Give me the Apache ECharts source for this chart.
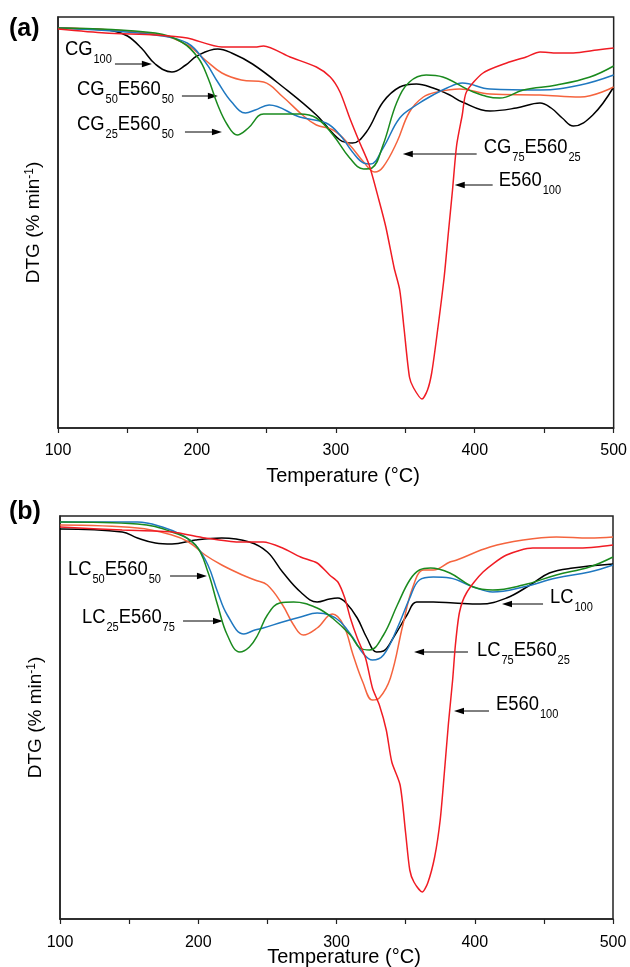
<!DOCTYPE html>
<html><head><meta charset="utf-8">
<script src="https://cdn.jsdelivr.net/npm/echarts@6/dist/echarts.min.js"></script>
<style>html,body{margin:0;padding:0;background:#fff}#c{width:630px;height:967px}</style>
</head><body><div id="c"></div>
<script>
// x axis tick labels
const xTickLabels = [100, 200, 300, 400, 500];

// Panel (a): DTG (% min-1) vs temperature (°C)
const cg100 = [[100,-0.55],[120,-0.6],[140,-0.7],[150,-0.95],[160,-1.55],[170,-2.35],[182,-2.75],[192,-2.4],[200,-1.95],[215,-1.6],[225,-1.8],[240,-2.35],[262,-3.5],[286,-4.9],[303,-6.15],[312,-6.3],[322,-5.75],[334,-4.25],[346,-3.5],[358,-3.35],[370,-3.55],[382,-3.9],[391,-4.25],[411,-4.7],[430,-4.55],[447,-4.3],[455,-4.55],[463,-5.05],[471,-5.45],[485,-4.9],[500,-3.5]];
const e560a = [[100,-0.6],[134,-0.8],[170,-0.9],[193,-1.05],[218,-1.5],[242,-1.5],[248,-1.45],[267,-2.0],[286,-2.5],[296,-3.0],[303,-3.75],[310,-5.05],[317,-6.25],[324,-7.4],[331,-9.15],[336,-10.5],[342,-12.55],[346,-13.65],[349,-15.5],[353,-18.0],[356,-18.55],[362,-19.1],[366,-18.65],[369,-17.8],[373,-15.8],[378,-13.0],[381,-10.8],[384,-8.65],[387,-6.4],[391,-4.9],[394,-3.75],[406,-2.8],[423,-2.3],[437,-2.0],[447,-1.75],[459,-1.8],[471,-1.8],[488,-1.65],[500,-1.55]];
const cg50e560a = [[100,-0.55],[140,-0.7],[170,-0.9],[193,-1.3],[206,-2.25],[215,-3.25],[225,-4.25],[235,-4.8],[242,-4.65],[252,-4.4],[274,-5.0],[293,-5.3],[303,-5.9],[312,-6.75],[320,-7.3],[325,-7.35],[334,-6.55],[346,-5.05],[358,-4.4],[370,-3.9],[380,-3.55],[391,-3.3],[411,-3.6],[447,-3.65],[476,-3.4],[500,-2.9]];
const cg75e560a = [[100,-0.55],[170,-0.85],[193,-1.4],[206,-2.15],[218,-2.8],[232,-3.15],[248,-3.25],[262,-4.0],[276,-4.9],[286,-5.4],[298,-5.65],[310,-6.4],[320,-7.25],[328,-7.75],[334,-7.5],[344,-6.25],[353,-4.75],[363,-4.0],[373,-3.75],[389,-3.6],[411,-3.85],[447,-3.9],[476,-4.0],[500,-3.5]];
const cg25e560a = [[100,-0.55],[170,-0.8],[189,-1.25],[201,-2.05],[208,-3.05],[215,-4.4],[222,-5.4],[229,-5.9],[237,-5.55],[248,-4.85],[274,-4.85],[286,-5.05],[298,-5.9],[310,-7.05],[320,-7.6],[326,-7.55],[334,-6.4],[344,-4.25],[353,-3.25],[365,-2.9],[377,-3.0],[399,-3.75],[418,-4.05],[435,-3.65],[459,-3.4],[483,-3.0],[500,-2.45]];

// Panel (b)
const lc100 = [[100,-0.65],[145,-0.8],[156,-1.1],[169,-1.35],[181,-1.4],[198,-1.2],[217,-1.1],[237,-1.3],[250,-1.8],[261,-2.8],[274,-3.8],[286,-4.3],[295,-4.15],[301,-4.1],[307,-4.35],[315,-5.1],[322,-6.1],[329,-6.8],[334,-6.75],[341,-6.1],[351,-4.95],[358,-4.3],[370,-4.3],[385,-4.35],[404,-4.4],[423,-4.1],[440,-3.45],[454,-2.85],[471,-2.6],[500,-2.4]];
const e560b = [[100,-0.55],[145,-0.7],[181,-0.8],[205,-1.1],[229,-1.3],[247,-1.3],[261,-1.6],[274,-2.05],[286,-2.35],[295,-2.95],[301,-3.3],[306,-4.1],[310,-5.1],[315,-6.1],[321,-7.1],[326,-8.6],[331,-9.45],[336,-10.7],[340,-12.3],[346,-13.45],[350,-15.85],[353,-17.7],[356,-18.3],[362,-18.8],[366,-18.35],[371,-17.05],[375,-15.2],[378,-12.85],[381,-10.35],[384,-8.2],[386,-6.45],[389,-4.8],[394,-3.85],[406,-2.8],[423,-1.95],[442,-1.6],[459,-1.6],[476,-1.6],[488,-1.55],[500,-1.45]];
const lc50e560b = [[100,-0.3],[156,-0.3],[174,-0.55],[188,-0.95],[198,-1.45],[207,-2.45],[214,-3.8],[221,-4.95],[233,-5.9],[241,-5.7],[247,-5.6],[261,-5.3],[274,-5.05],[286,-4.85],[295,-4.95],[303,-5.3],[312,-6.1],[319,-6.85],[326,-7.2],[334,-6.95],[344,-5.6],[353,-4.1],[360,-3.2],[370,-3.05],[382,-3.1],[399,-3.55],[413,-3.8],[435,-3.55],[459,-3.1],[483,-2.8],[500,-2.45]];
const lc25e560b = [[100,-0.3],[156,-0.4],[181,-0.8],[198,-1.45],[207,-2.8],[214,-4.45],[221,-5.95],[230,-6.8],[237,-6.55],[243,-5.95],[250,-4.95],[259,-4.35],[269,-4.3],[286,-4.6],[297,-5.1],[310,-5.95],[317,-6.6],[324,-6.7],[334,-5.95],[344,-4.45],[353,-3.2],[360,-2.7],[368,-2.6],[382,-2.85],[399,-3.55],[413,-3.7],[435,-3.45],[459,-2.95],[483,-2.55],[500,-2.05]];
const lc75e560b = [[100,-0.45],[156,-0.6],[181,-0.95],[193,-1.3],[205,-1.95],[217,-2.45],[232,-2.95],[241,-3.2],[250,-3.45],[261,-4.45],[269,-5.45],[276,-5.95],[286,-5.6],[297,-4.9],[305,-5.45],[312,-6.95],[319,-8.3],[326,-9.2],[331,-9.1],[339,-8.1],[348,-5.45],[355,-3.6],[363,-2.7],[370,-2.7],[382,-2.3],[387,-2.2],[411,-1.55],[435,-1.2],[459,-1.05],[483,-1.1],[500,-1.05]];

const C = {black:'#000000', red:'#f01c24', orange:'#f5643e', blue:'#1f78c0', green:'#1a8a1e'};

const FONT = 'Liberation Sans, Arial, Helvetica, sans-serif';

function mkX(gi, margin) {
  return {
    type:'value', gridIndex:gi, min:100, max:500, interval:50, position:'bottom',
    axisLine:{show:true, onZero:false, lineStyle:{color:'#222', width:1.5}},
    axisTick:{show:true, inside:false, length:5, lineStyle:{color:'#222', width:1.2}},
    axisLabel:{fontSize:16, color:'#000', fontFamily:FONT, margin:margin,
      formatter:v => xTickLabels.indexOf(v) >= 0 ? String(v) : ''},
    splitLine:{show:false}
  };
}
function mkY(gi, min) {
  return {
    type:'value', gridIndex:gi, min:min, max:0,
    axisLine:{show:true, onZero:false, lineStyle:{color:'#222', width:1.5}},
    axisTick:{show:false}, axisLabel:{show:false}, splitLine:{show:false},
    name:'{m|DTG (% min}{s|-1}{m|)}', nameLocation:'middle', nameGap:12,
    nameTextStyle:{color:'#000', fontFamily:FONT,
      rich:{m:{fontSize:19, fontFamily:FONT, color:'#000', lineHeight:22, verticalAlign:'top'},
            s:{fontSize:12, fontFamily:FONT, color:'#000', lineHeight:12, verticalAlign:'top'}}}
  };
}
function mkS(gi, data, color, smooth) {
  return {type:'line', xAxisIndex:gi, yAxisIndex:gi, data:data, showSymbol:false, symbol:'none',
    smooth:smooth, lineStyle:{color:color, width:1.5}, itemStyle:{color:color}, animation:false, silent:true};
}

const chart = echarts.init(document.getElementById('c'));
chart.setOption({
  animation:false,
  backgroundColor:'#fff',
  grid:[
    {left:58, top:17, width:556, height:411, show:true, borderColor:'#222', borderWidth:1.5, backgroundColor:'transparent'},
    {left:60, top:516, width:553, height:403, show:true, borderColor:'#222', borderWidth:1.5, backgroundColor:'transparent'}
  ],
  xAxis:[mkX(0,15), mkX(1,16)],
  yAxis:[mkY(0,-20.55), mkY(1,-20.15)],
  series:[
    mkS(0, cg100, C.black, 0.4),
    mkS(0, cg75e560a, C.orange, 0.4),
    mkS(0, cg50e560a, C.blue, 0.4),
    mkS(0, cg25e560a, C.green, 0.4),
    mkS(0, e560a, C.red, 0.25),
    mkS(1, lc100, C.black, 0.4),
    mkS(1, lc75e560b, C.orange, 0.4),
    mkS(1, lc50e560b, C.blue, 0.4),
    mkS(1, lc25e560b, C.green, 0.4),
    mkS(1, e560b, C.red, 0.25)
  ]
});

// annotations in data coordinates: text anchor (left, cap-top), arrow from -> to
const annA = [
  {t:'{m|CG}{s|100}', at:[105.0,-1.25], from:[141.0,-2.35], to:[167.6,-2.35]},
  {t:'{m|CG}{s|50}{m|E560}{s|50}', at:[113.7,-3.25], from:[189.2,-3.95], to:[215.1,-3.95]},
  {t:'{m|CG}{s|25}{m|E560}{s|50}', at:[113.7,-5.0], from:[191.4,-5.75], to:[218.0,-5.75]},
  {t:'{m|CG}{s|75}{m|E560}{s|25}', at:[406.5,-6.15], from:[401.4,-6.85], to:[348.2,-6.85]},
  {t:'{m|E560}{s|100}', at:[417.3,-7.8], from:[412.9,-8.4], to:[385.6,-8.4]}
];
const annB = [
  {t:'{m|LC}{s|50}{m|E560}{s|50}', at:[105.8,-2.3], from:[179.6,-3.0], to:[206.3,-3.0]},
  {t:'{m|LC}{s|25}{m|E560}{s|75}', at:[115.9,-4.7], from:[189.0,-5.25], to:[217.9,-5.25]},
  {t:'{m|LC}{s|100}', at:[454.4,-3.7], from:[449.4,-4.4], to:[419.7,-4.4]},
  {t:'{m|LC}{s|75}{m|E560}{s|25}', at:[401.6,-6.35], from:[395.1,-6.8], to:[356.1,-6.8]},
  {t:'{m|E560}{s|100}', at:[415.4,-9.05], from:[410.3,-9.75], to:[385.0,-9.75]}
];

const rich = {
  m:{fontSize:20, fontFamily:FONT, fill:'#000', color:'#000', lineHeight:20, verticalAlign:'top'},
  s:{fontSize:12, fontFamily:FONT, fill:'#000', color:'#000', lineHeight:12, verticalAlign:'top', padding:[15,0,0,1]}
};
const g = [];
function addAnn(list, gi) {
  list.forEach(a => {
    const p = chart.convertToPixel({gridIndex:gi}, a.at);
    const f = chart.convertToPixel({gridIndex:gi}, a.from);
    const t = chart.convertToPixel({gridIndex:gi}, a.to);
    g.push({type:'text', x:p[0], y:p[1]-3, scaleX:0.92, silent:true,
      style:{text:a.t, rich:rich, fill:'#000', align:'left', verticalAlign:'top', font:'20px ' + FONT}});
    const dir = t[0] > f[0] ? 1 : -1;
    g.push({type:'line', silent:true, shape:{x1:f[0], y1:f[1], x2:t[0]-dir*6, y2:t[1]}, style:{stroke:'#000', lineWidth:1}});
    g.push({type:'polygon', silent:true, shape:{points:[[t[0],t[1]],[t[0]-dir*10,t[1]-3.2],[t[0]-dir*10,t[1]+3.2]]}, style:{fill:'#000'}});
  });
}
addAnn(annA, 0);
addAnn(annB, 1);
// x axis titles, centred below each panel
g.push({type:'text', x:343, y:476, silent:true, style:{text:'Temperature (°C)', fill:'#000', font:'20px ' + FONT, align:'center', verticalAlign:'middle'}});
g.push({type:'text', x:344, y:957, silent:true, style:{text:'Temperature (°C)', fill:'#000', font:'20px ' + FONT, align:'center', verticalAlign:'middle'}});
g.push({type:'text', left:9, top:17, silent:true, style:{text:'(a)', fill:'#000', font:'bold 25px ' + FONT}});
g.push({type:'text', left:9, top:500, silent:true, style:{text:'(b)', fill:'#000', font:'bold 25px ' + FONT}});
chart.setOption({graphic:g});
</script>
</body></html>
